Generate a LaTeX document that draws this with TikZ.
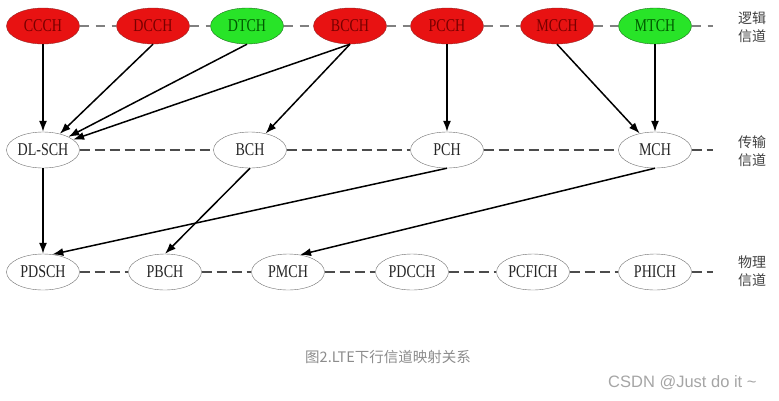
\documentclass[tikz,border=0pt]{standalone}
\usepackage{fontspec}
\setmainfont{Liberation Serif}
\newfontfamily\chanfont[FakeStretch=0.78]{Liberation Serif}
\newfontfamily\cjkfont{Noto Sans CJK SC}
\newfontfamily\markfont{Liberation Sans}
\usetikzlibrary{arrows.meta,shapes.geometric}

\definecolor{logred}{RGB}{232,18,18}
\definecolor{logredline}{RGB}{150,40,40}
\definecolor{logredtext}{RGB}{120,0,0}
\definecolor{loggreen}{RGB}{40,228,40}
\definecolor{loggreenline}{RGB}{30,110,30}
\definecolor{loggreentext}{RGB}{0,90,0}
\definecolor{chanline}{RGB}{110,110,110}
\definecolor{captiongray}{RGB}{140,140,140}
\definecolor{markgray}{RGB}{165,165,165}

\tikzset{
  chan/.style={ellipse, minimum width=73pt, minimum height=36pt, inner sep=0pt,
    font=\chanfont\fontsize{18}{18}\selectfont},
  redchan/.style={chan, draw=logredline, fill=logred, text=logredtext},
  greenchan/.style={chan, draw=loggreenline, fill=loggreen, text=loggreentext},
  whitechan/.style={chan, draw=chanline, fill=white, text=black!85},
  toplink/.style={draw=gray, line width=1.4pt, dash pattern=on 9pt off 7pt},
  lowlink/.style={draw=black!70, line width=1.6pt, dash pattern=on 10pt off 5pt},
  maplink/.style={-{Latex[length=11pt,width=8pt]}, line width=1.5pt},
  layername/.style={font=\cjkfont\fontsize{14}{18}\selectfont, align=left, text=black!75}
}

\begin{document}
\begin{tikzpicture}[x=1pt,y=-1pt]
  \useasboundingbox (0,0) rectangle (779,400);

  % Logical channels
  \foreach \nm/\x/\sty in {CCCH/43/redchan, DCCH/153/redchan, DTCH/247/greenchan,
      BCCH/350/redchan, PCCH/447/redchan, MCCH/557/redchan, MTCH/655/greenchan}
    \node[\sty] (\nm) at (\x,26) {\nm};

  % Transport channels
  \foreach \nm/\txt/\x in {DLSCH/DL-SCH/43, BCH/BCH/250, PCH/PCH/447, MCH/MCH/655}
    \node[whitechan] (\nm) at (\x,150) {\txt};

  % Physical channels
  \foreach \nm/\x in {PDSCH/43, PBCH/165, PMCH/288, PDCCH/412, PCFICH/533, PHICH/655}
    \node[whitechan] (\nm) at (\x,272) {\nm};

  % Row ends
  \coordinate (logend) at (713,26);
  \coordinate (trend) at (713,150);
  \coordinate (phyend) at (713,272);

  % Dashed rows
  \foreach \a/\b in {CCCH/DCCH, DCCH/DTCH, DTCH/BCCH, BCCH/PCCH, PCCH/MCCH, MCCH/MTCH, MTCH/logend}
    \draw[toplink] (\a) -- (\b);
  \foreach \a/\b in {DLSCH/BCH, BCH/PCH, PCH/MCH, MCH/trend}
    \draw[lowlink] (\a) -- (\b);
  \foreach \a/\b in {PDSCH/PBCH, PBCH/PMCH, PMCH/PDCCH, PDCCH/PCFICH, PCFICH/PHICH, PHICH/phyend}
    \draw[lowlink] (\a) -- (\b);

  % Logical to transport
  \draw[maplink] (CCCH.south) -- (DLSCH.north);
  \draw[maplink] (DCCH.south) -- (DLSCH);
  \draw[maplink] (DTCH.south) -- (DLSCH);
  \draw[maplink] (BCCH.south) -- (DLSCH);
  \draw[maplink] (BCCH.south) -- (BCH);
  \draw[maplink] (PCCH.south) -- (PCH.north);
  \draw[maplink] (MCCH.south) -- (MCH);
  \draw[maplink] (MTCH.south) -- (MCH.north);

  % Transport to physical
  \draw[maplink] (DLSCH.south) -- (PDSCH.north);
  \draw[maplink] (BCH.south) -- (PBCH.north);
  \draw[maplink] (PCH.south) -- (PDSCH.62);
  \draw[maplink] (MCH.south) -- (PMCH.55);

  % Layer names
  \node[layername] (loglabel) at (752,27) {逻辑\\信道};
  \node[layername] (trlabel) at (752,151) {传输\\信道};
  \node[layername] (phylabel) at (752,271) {物理\\信道};

  % Caption and mark
  \node[anchor=west, font=\cjkfont\fontsize{14.5}{16}\selectfont, text=captiongray, inner sep=0pt]
    (caption) at (305,357) {图2.LTE下行信道映射关系};
  \node[anchor=west, font=\markfont\fontsize{16.5}{18}\selectfont, text=markgray, inner sep=0pt]
    (mark) at (608,383) {CSDN @Just do it \textasciitilde};
\end{tikzpicture}
\end{document}
